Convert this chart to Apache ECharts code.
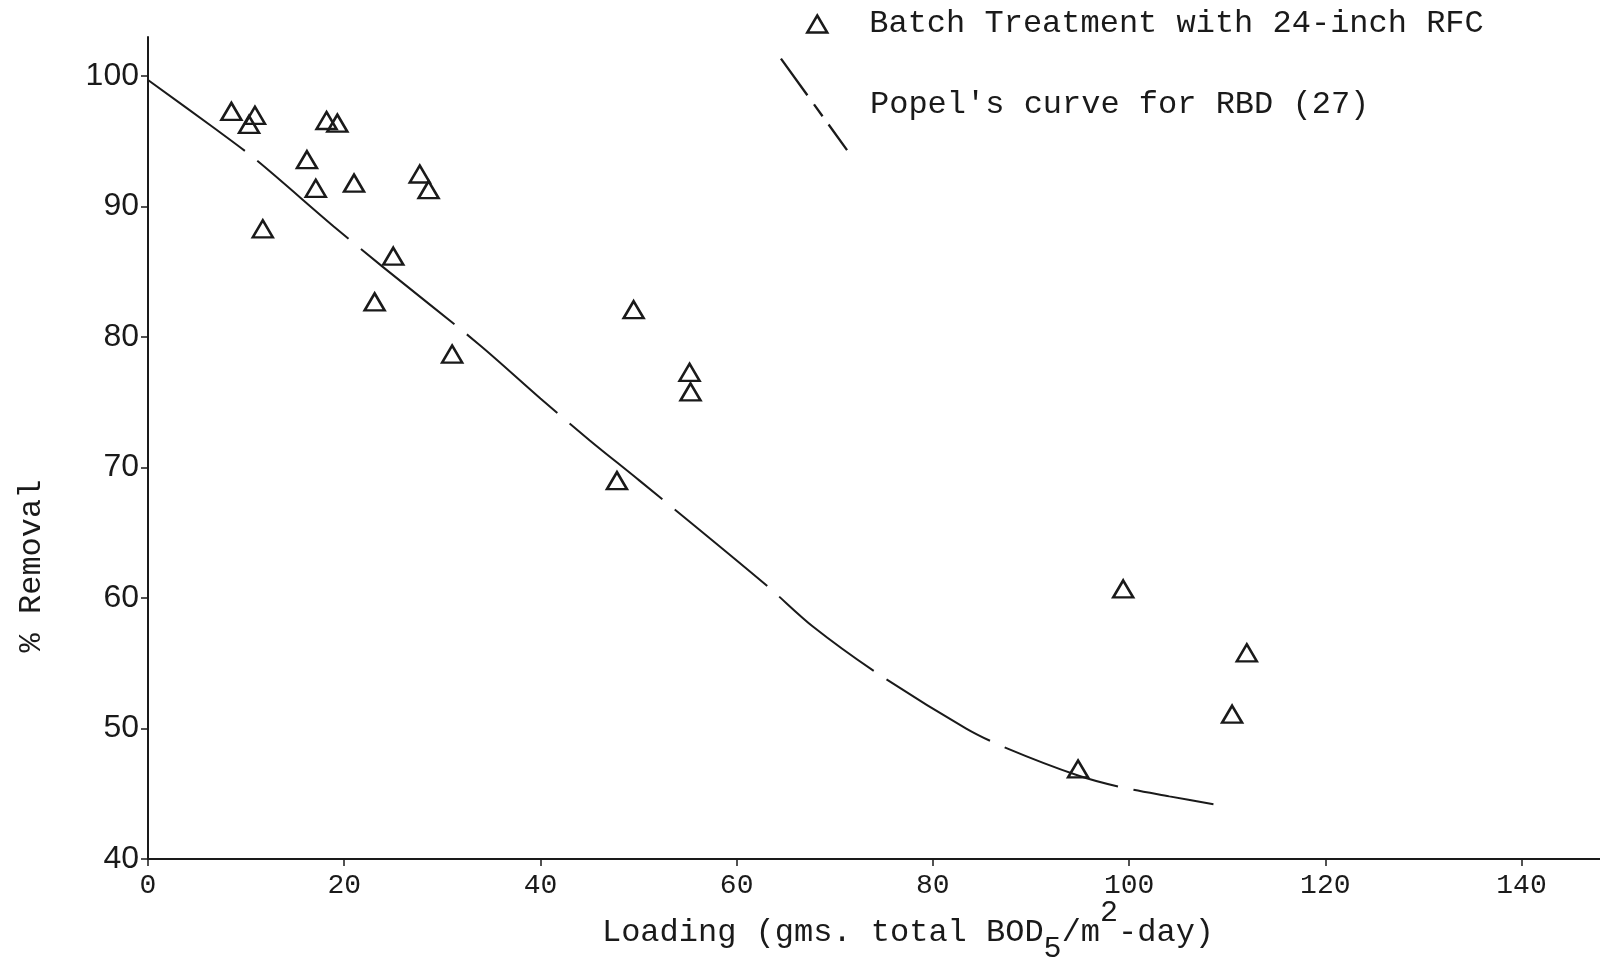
<!DOCTYPE html>
<html>
<head>
<meta charset="utf-8">
<title>Removal vs Loading</title>
<script src="https://cdn.jsdelivr.net/npm/echarts@6/dist/echarts.min.js"></script>
<style>
  html, body { margin: 0; padding: 0; background: #fff; }
  #main { width: 1600px; height: 961px; }
</style>
</head>
<body>
<div id="main"></div>
<script>
// tick values
var xTicks = [0, 20, 40, 60, 80, 100, 120, 140];
var yTicks = [40, 50, 60, 70, 80, 90, 100];

// batch treatment points: loading, % removal
var batchLoading = [8.5, 10.9, 10.3, 18.2, 19.3, 16.2, 17.1, 21.0, 27.7, 28.6, 11.7,
  25.0, 23.1, 31.0, 49.5, 55.2, 55.3, 47.8, 99.4, 112.0, 110.5, 94.8];
var batchRemoval = [97.3, 97.0, 96.3, 96.6, 96.4, 93.6, 91.4, 91.8, 92.5, 91.3, 88.3,
  86.2, 82.7, 78.7, 82.1, 77.3, 75.8, 69.0, 60.7, 55.8, 51.1, 46.9];

// Popel's curve
var popelLoading = [0, 6.6, 11, 18.9, 23.9, 33.8, 40, 45, 50.1, 63, 67.8, 74.6, 83.4,
  87.5, 94.8, 99.2, 104.1, 108.6];
var popelRemoval = [99.7, 96.1, 93.6, 88.5, 85.4, 79.4, 75.3, 72.1, 69.0, 61.0, 57.8,
  54.1, 50.0, 48.5, 46.4, 45.5, 44.8, 44.2];

var batchName = 'Batch Treatment with 24-inch RFC';
var popelName = "Popel's curve for RBD (27)";

var mono = '"Liberation Mono", "DejaVu Sans Mono", monospace';
var ink = '#1a1a1a';

function pairs(xs, ys) {
  var out = [];
  for (var i = 0; i < xs.length; i++) {
    out.push([xs[i], ys[i]]);
  }
  return out;
}

var chart = echarts.init(document.getElementById('main'), null, { renderer: 'canvas' });

var option = {
  backgroundColor: '#ffffff',
  animation: false,
  grid: {
    left: 148,
    right: 0,
    top: 37,
    bottom: 102,
    containLabel: false,
    outerBoundsMode: 'none'
  },
  legend: [{
    // triangle entry
    left: 806,
    top: 8,
    padding: 0,
    orient: 'vertical',
    itemWidth: 20,
    itemHeight: 17,
    selectedMode: false,
    data: [{
      name: batchName,
      icon: 'triangle',
      itemStyle: { color: 'rgba(0,0,0,0)', borderColor: ink, borderWidth: 2.5 }
    }],
    textStyle: { fontFamily: mono, fontSize: 32, color: ink, padding: [0, 0, 0, 37] }
  }, {
    // dashed diagonal entry
    left: 780,
    top: 58,
    padding: 0,
    orient: 'vertical',
    itemWidth: 68,
    itemHeight: 94,
    selectedMode: false,
    data: [{
      name: popelName,
      icon: 'path://M0.97,-0.70 L28.17,36.9 L26.23,38.3 L-0.97,0.70 Z M34.97,46.3 L43.77,58.5 L41.83,59.9 L33.03,47.7 Z M49.97,67.0 L68.97,93.3 L67.03,94.7 L48.03,68.4 Z',
      itemStyle: { color: ink, borderWidth: 0 }
    }],
    textStyle: { fontFamily: mono, fontSize: 32, color: ink, padding: [0, 0, 0, 17] }
  }],
  xAxis: {
    type: 'value',
    min: 0,
    max: 148,
    interval: 20,
    splitLine: { show: false },
    axisLine: { show: true, lineStyle: { color: ink, width: 2 } },
    axisTick: { show: true, length: 7, customValues: xTicks, lineStyle: { color: ink, width: 1.5 } },
    axisLabel: {
      customValues: xTicks,
      margin: 13,
      fontFamily: mono,
      fontSize: 28,
      color: ink
    },
    name: '{a|Loading (gms. total BOD}{sub|5}{a|/m}{sup|2}{a|-day)}',
    nameLocation: 'middle',
    nameGap: 39,
    nameMoveOverlap: false,
    nameTextStyle: {
      padding: [0, 0, 0, 68],
      rich: {
        a: { fontFamily: mono, fontSize: 32, color: ink },
        sub: { fontFamily: mono, fontSize: 30, color: ink, padding: [32, 0, 0, 0] },
        sup: { fontFamily: mono, fontSize: 30, color: ink, padding: [0, 0, 40, 0] }
      }
    }
  },
  yAxis: {
    type: 'value',
    min: 40,
    max: 103,
    interval: 10,
    splitLine: { show: false },
    axisLine: { show: true, lineStyle: { color: ink, width: 2 } },
    axisTick: { show: true, length: 7, customValues: yTicks, lineStyle: { color: ink, width: 1.5 } },
    axisLabel: {
      customValues: yTicks,
      margin: 9,
      fontFamily: '"Liberation Sans", Arial, sans-serif',
      fontSize: 32,
      color: ink
    },
    name: '% Removal',
    nameLocation: 'middle',
    nameGap: 100,
    nameMoveOverlap: false,
    nameTextStyle: {
      fontFamily: mono,
      fontSize: 32,
      color: ink,
      padding: [0, 236, 0, 0]
    }
  },
  series: [{
    name: batchName,
    type: 'scatter',
    symbol: 'triangle',
    symbolSize: [20, 17],
    itemStyle: { color: 'rgba(0,0,0,0)', borderColor: ink, borderWidth: 2.5, opacity: 1 },
    data: pairs(batchLoading, batchRemoval),
    z: 3
  }, {
    name: popelName,
    type: 'line',
    smooth: 0.3,
    showSymbol: false,
    symbol: 'none',
    color: ink,
    lineStyle: { color: ink, width: 2, type: [120, 16] },
    data: pairs(popelLoading, popelRemoval),
    z: 2
  }]
};

chart.setOption(option);
</script>
</body>
</html>
